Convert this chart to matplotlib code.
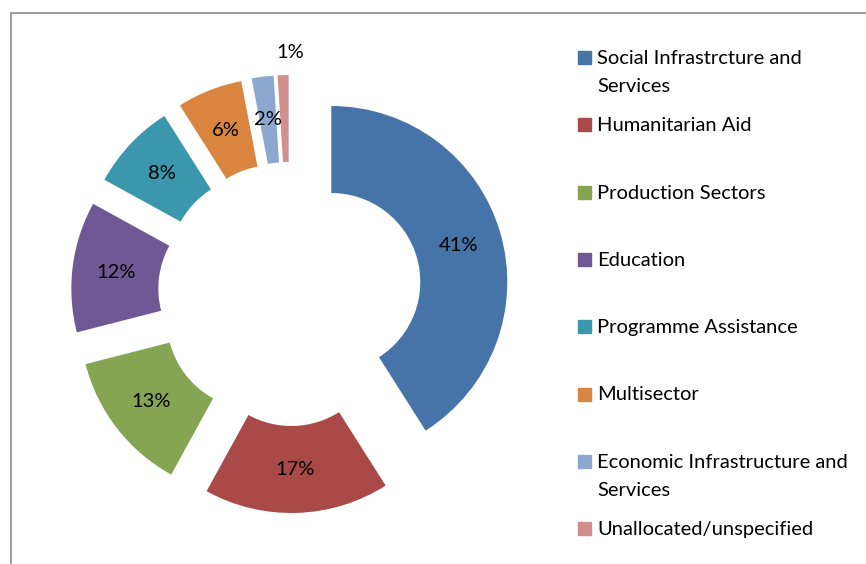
import numpy as np
import matplotlib.pyplot as plt
from matplotlib.patches import Rectangle

# Aid by sector, share of total (%)
sectors = ['Social Infrastrcture and\nServices', 'Humanitarian Aid', 'Production Sectors',
           'Education', 'Programme Assistance', 'Multisector',
           'Economic Infrastructure and\nServices', 'Unallocated/unspecified']
shares = [41, 17, 13, 12, 8, 6, 2, 1]
colors = ['#4674A8', '#A94A48', '#86A553', '#6F5994', '#3B97AB', '#DA853F', '#8DA8CF', '#D08E8D']

plt.rcParams['font.family'] = ['Lato', 'DejaVu Sans']

W, H = 866, 564
fig = plt.figure(figsize=(W / 100, H / 100), dpi=100)
ax = fig.add_axes([0, 0, 1, 1])
ax.set_xlim(0, W)
ax.set_ylim(0, H)
ax.set_aspect('equal')
ax.axis('off')

R = 176      # outer radius in pixels
ring = 87    # ring thickness
expl = 43    # how far every slice is pulled out
cx, cy = 290, H - 294

wedges, texts, autotexts = ax.pie(
    shares, radius=R, center=(cx, cy), startangle=90, counterclock=False,
    explode=[expl] * len(shares), colors=colors,
    wedgeprops=dict(width=ring, linewidth=0),
    autopct='%d%%', pctdistance=(R - ring / 2) / R,
    textprops=dict(fontsize=14.5, color='black'))

# the smallest slice gets its label pushed outside the ring
wx, wy = wedges[-1].center
autotexts[-1].set_position((wx + 2, wy + 1.13 * R))

ax.set_xlim(0, W)
ax.set_ylim(0, H)

# legend on the right, drawn by hand to keep the wide spacing
for i, (lab, col) in enumerate(zip(sectors, colors)):
    y = 57 + i * 67.3
    fig.patches.append(Rectangle((578 / W, 1 - (y + 7) / H), 13 / W, 13 / H,
                                 transform=fig.transFigure, color=col, figure=fig))
    for k, line in enumerate(lab.split('\n')):
        fig.text(597 / W, 1 - (y + 7 + 28 * k) / H, line, fontsize=14.5,
                 va='baseline', ha='left')

# chart area border
fig.patches.append(Rectangle((10.5 / W, -0.1), 1, 1 - 12.5 / H + 0.1,
                             transform=fig.transFigure, fill=False,
                             edgecolor='#8C8C8C', linewidth=1.2, figure=fig))

fig.savefig('out.png', dpi=100)
